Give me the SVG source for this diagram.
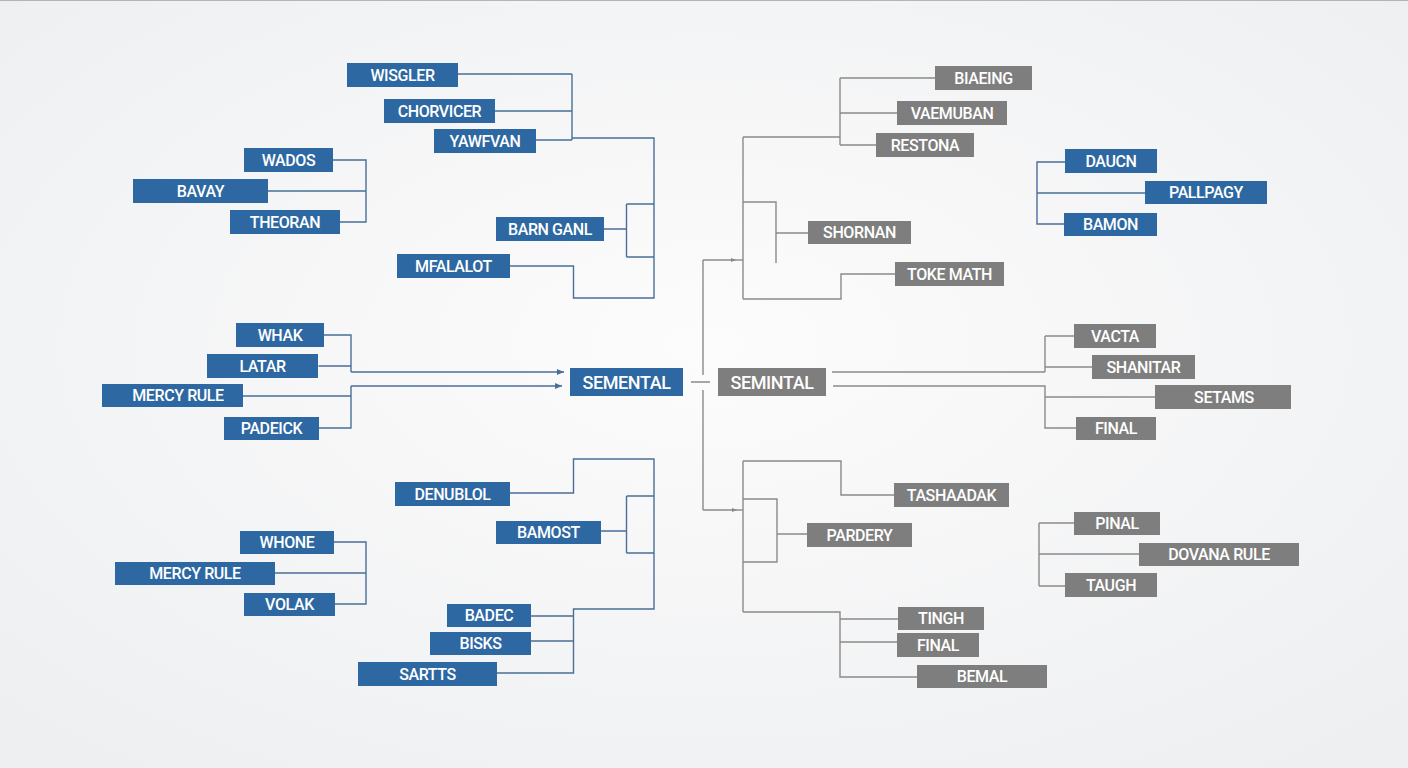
<svg xmlns="http://www.w3.org/2000/svg" width="1408" height="768" viewBox="0 0 1408 768">
<defs>
<radialGradient id="bg" cx="50%" cy="45%" r="70%">
<stop offset="0" stop-color="#fcfcfd"/>
<stop offset="1" stop-color="#eeeff0"/>
</radialGradient>
<marker id="ab" markerWidth="8" markerHeight="8" refX="7" refY="4" orient="auto" markerUnits="userSpaceOnUse">
<path d="M0,1 L7,4 L0,7 z" fill="#4a6f98"/>
</marker>
<marker id="ag" markerWidth="8" markerHeight="8" refX="6" refY="4" orient="auto" markerUnits="userSpaceOnUse">
<path d="M1,2 L6,4 L1,6 z" fill="#888"/>
</marker>
<style>
.b rect{fill:#2e68a2}
.g rect{fill:#7e7e7e}
text{font-family:Roboto,"Liberation Sans",Arial,sans-serif;font-weight:500;font-size:16px;fill:#fff;text-anchor:middle;letter-spacing:-0.4px}
.big{font-size:18px}
.cb path{fill:none;stroke:#4a6f98;stroke-width:1.4}
.cg path{fill:none;stroke:#8a8a8a;stroke-width:1.4}
</style>
</defs>
<rect width="1408" height="768" fill="url(#bg)"/>
<line x1="0" y1="0.5" x2="1408" y2="0.5" stroke="#b5b5b5" stroke-width="1"/>

<g id="connectors">
<g class="cb">
<path d="M458,74 H572 M495,111 H572 M536,140 H572 M572,74 V140 M572,138 H654 V298 H573.5 V266 H510"/>
<path d="M604,229 H626.5 M626.5,204 V257 M626.5,204 H654 M626.5,257 H654"/>
<path d="M333,160 H366 V222 H340 M268,191 H366"/>
<path d="M324,335 H351 V372 M318.5,366 H351 M351,386 V428 H319 M243,396 H351"/>
<path d="M351,372 H564" marker-end="url(#ab)"/>
<path d="M351,386 H562" marker-end="url(#ab)"/>
<path d="M510,493 H573.5 V459 H654 V609 H573.5 V673 H497 M531,616 H573.5 M531,641 H573.5"/>
<path d="M600.6,531 H626.5 M626.5,496 V553 M626.5,496 H654 M626.5,553 H654"/>
<path d="M334,542 H366 V604 H335 M275,573 H366"/>
<path d="M1065,162 H1037 V224 H1064 M1037,193 H1145"/>
</g>
<g class="cg">
<path d="M703,260 V375 M703,390 V510 M691,382 H710"/>
<path d="M703,260 H736" marker-end="url(#ag)"/>
<path d="M736,260 H743"/>
<path d="M703,510 H737" marker-end="url(#ag)"/>
<path d="M737,510 H743"/>
<path d="M743,137 V299 M743,137 H840 M840,78 V145 M840,78 H935 M840,113 H897 M840,145 H876"/>
<path d="M743,202 H776 V263 M776,233 H808 M743,299 H841 V274 H895"/>
<path d="M743,461 V612 M743,461 H841 V495 H894 M743,499 H777 V562 H743 M777,534 H807"/>
<path d="M743,612 H840 V677 H917 M840,619 H898 M840,642 H897"/>
<path d="M832,372 H1045 M1045,336 V372 M1045,336 H1074 M1045,367 H1092"/>
<path d="M833,386 H1045 V428 H1076 M1045,397 H1155"/>
<path d="M1039,523 V586 M1039,523 H1074 M1039,554 H1139 M1039,586 H1065"/>
</g>
</g>

<g id="n-wisgler" class="b"><rect x="347" y="63" width="111" height="24"/><text x="402.5" y="80.5">WISGLER</text></g>
<g id="n-chorvicer" class="b"><rect x="384" y="99" width="111" height="24"/><text x="439.5" y="116.5">CHORVICER</text></g>
<g id="n-yawfvan" class="b"><rect x="434" y="129" width="102" height="24"/><text x="485" y="146.5">YAWFVAN</text></g>
<g id="n-wados" class="b"><rect x="244" y="148" width="89" height="24"/><text x="288.5" y="165.5">WADOS</text></g>
<g id="n-bavay" class="b"><rect x="133" y="179" width="135" height="24"/><text x="200.5" y="196.5">BAVAY</text></g>
<g id="n-theoran" class="b"><rect x="230" y="210" width="110" height="24"/><text x="285" y="227.5">THEORAN</text></g>
<g id="n-barngan" class="b"><rect x="496" y="217" width="108" height="24"/><text x="550" y="234.5">BARN GANL</text></g>
<g id="n-mfalalot" class="b"><rect x="397" y="254" width="113" height="24"/><text x="453.5" y="271.5">MFALALOT</text></g>
<g id="n-whak" class="b"><rect x="236" y="323" width="88" height="24"/><text x="280" y="340.5">WHAK</text></g>
<g id="n-latar" class="b"><rect x="207" y="354" width="111" height="24"/><text x="262.5" y="371.5">LATAR</text></g>
<g id="n-mercy1" class="b"><rect x="102" y="384" width="141" height="23"/><text x="178" y="401">MERCY RULE</text></g>
<g id="n-padeick" class="b"><rect x="224" y="417" width="95" height="23"/><text x="271.5" y="434">PADEICK</text></g>
<g id="n-sementa" class="b"><rect x="570" y="368" width="113" height="28"/><text class="big" x="626.5" y="388.5">SEMENTAL</text></g>
<g id="n-denublol" class="b"><rect x="395" y="482" width="115" height="24"/><text x="452.5" y="499.5">DENUBLOL</text></g>
<g id="n-bamost" class="b"><rect x="496" y="521" width="105" height="23"/><text x="548.5" y="538">BAMOST</text></g>
<g id="n-whone" class="b"><rect x="240" y="531" width="94" height="23"/><text x="287" y="548">WHONE</text></g>
<g id="n-mercy2" class="b"><rect x="115" y="562" width="160" height="23"/><text x="195" y="579">MERCY RULE</text></g>
<g id="n-volak" class="b"><rect x="244" y="593" width="91" height="23"/><text x="289.5" y="610">VOLAK</text></g>
<g id="n-badec" class="b"><rect x="447" y="604" width="84" height="23"/><text x="489" y="621">BADEC</text></g>
<g id="n-bisks" class="b"><rect x="430" y="632" width="101" height="23"/><text x="480.5" y="649">BISKS</text></g>
<g id="n-sartts" class="b"><rect x="358" y="662" width="139" height="24"/><text x="427.5" y="679.5">SARTTS</text></g>
<g id="n-daucn" class="b"><rect x="1065" y="149" width="92" height="24"/><text x="1111" y="166.5">DAUCN</text></g>
<g id="n-pallpagy" class="b"><rect x="1145" y="181" width="122" height="23"/><text x="1206" y="198">PALLPAGY</text></g>
<g id="n-bamon" class="b"><rect x="1064" y="213" width="93" height="23"/><text x="1110.5" y="230">BAMON</text></g>

<g id="n-biaeing" class="g"><rect x="935" y="66" width="97" height="24"/><text x="983.5" y="83.5">BIAEING</text></g>
<g id="n-vaemuban" class="g"><rect x="897" y="101" width="110" height="24"/><text x="952" y="118.5">VAEMUBAN</text></g>
<g id="n-restona" class="g"><rect x="876" y="133" width="98" height="24"/><text x="925" y="150.5">RESTONA</text></g>
<g id="n-shornan" class="g"><rect x="808" y="221" width="103" height="23"/><text x="859.5" y="238">SHORNAN</text></g>
<g id="n-tokemath" class="g"><rect x="895" y="262" width="109" height="24"/><text x="949.5" y="279.5">TOKE MATH</text></g>
<g id="n-semintal" class="g"><rect x="718" y="368" width="108" height="28"/><text class="big" x="772" y="388.5">SEMINTAL</text></g>
<g id="n-vacta" class="g"><rect x="1074" y="324" width="82" height="24"/><text x="1115" y="341.5">VACTA</text></g>
<g id="n-shanitar" class="g"><rect x="1092" y="355" width="103" height="24"/><text x="1143.5" y="372.5">SHANITAR</text></g>
<g id="n-setams" class="g"><rect x="1155" y="385" width="136" height="24"/><text x="1224" y="402.5">SETAMS</text></g>
<g id="n-final1" class="g"><rect x="1076" y="417" width="80" height="23"/><text x="1116" y="434">FINAL</text></g>
<g id="n-tashaadak" class="g"><rect x="894" y="483" width="115" height="24"/><text x="951.5" y="500.5">TASHAADAK</text></g>
<g id="n-pardery" class="g"><rect x="807" y="523" width="105" height="24"/><text x="859.5" y="540.5">PARDERY</text></g>
<g id="n-pinal" class="g"><rect x="1074" y="512" width="86" height="23"/><text x="1117" y="529">PINAL</text></g>
<g id="n-dovana" class="g"><rect x="1139" y="543" width="160" height="23"/><text x="1219" y="560">DOVANA RULE</text></g>
<g id="n-taugh" class="g"><rect x="1065" y="573" width="92" height="24"/><text x="1111" y="590.5">TAUGH</text></g>
<g id="n-tingh" class="g"><rect x="898" y="607" width="86" height="23"/><text x="941" y="624">TINGH</text></g>
<g id="n-final2" class="g"><rect x="897" y="633" width="82" height="24"/><text x="938" y="650.5">FINAL</text></g>
<g id="n-bemal" class="g"><rect x="917" y="665" width="130" height="23"/><text x="982" y="682">BEMAL</text></g>
</svg>
